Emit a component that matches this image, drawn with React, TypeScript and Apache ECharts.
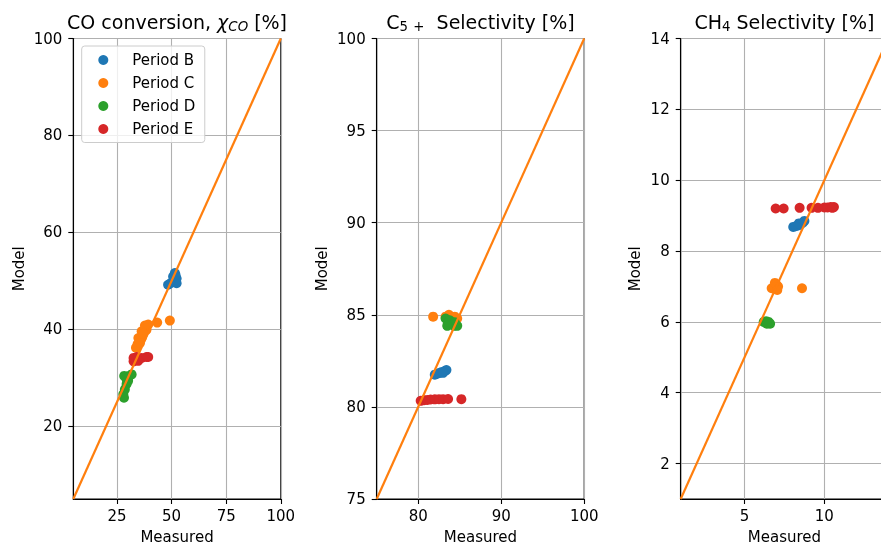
import React, { useEffect, useRef } from 'react';
import * as echarts from 'echarts';

const periods = ['Period B', 'Period C', 'Period D', 'Period E'];
const colors = ['#1f77b4', '#ff7f0e', '#2ca02c', '#d62728'];

// Panel 1: CO conversion [measured, model]
const coB = [[51.5, 51.6], [52.3, 50.5], [50.7, 49.9], [48.4, 49.2], [49.5, 49.5], [52.3, 49.5], [50.7, 50.9], [51.8, 51.2]];
const coC = [[34.4, 36.9], [34.8, 38.2], [36.3, 38.2], [36.3, 39.6], [38.5, 39.9], [37.8, 40.8], [39.3, 41.0], [33.7, 36.2], [35.5, 37.2], [37.0, 39.1], [43.4, 41.4], [49.2, 41.8]];
const coD = [[30.6, 30.4], [29.4, 29.7], [29.4, 28.7], [28.6, 27.6], [27.9, 26.6], [28.2, 25.9], [30.1, 29.4], [31.7, 30.7], [28.3, 30.4]];
const coE = [[32.6, 33.4], [34.0, 34.3], [36.3, 34.1], [38.5, 34.3], [32.6, 34.1], [34.7, 33.5], [39.3, 34.3]];

// Panel 2: C5+ selectivity
const c5B = [[82.0, 81.75], [82.3, 81.8], [82.6, 81.85], [82.9, 81.9], [83.2, 81.95], [83.4, 82.0], [83.0, 81.85]];
const c5C = [[81.8, 84.9], [83.3, 84.9], [83.7, 85.0], [84.0, 84.9], [84.4, 84.9], [84.7, 84.8]];
const c5D = [[83.3, 84.8], [83.6, 84.6], [84.0, 84.5], [84.3, 84.4], [84.7, 84.4], [83.8, 84.7], [84.4, 84.6], [83.5, 84.4]];
const c5E = [[80.3, 80.33], [80.7, 80.36], [81.1, 80.38], [81.5, 80.4], [82.0, 80.41], [82.5, 80.42], [83.0, 80.42], [83.6, 80.43], [85.2, 80.42]];

// Panel 3: CH4 selectivity
const chB = [[8.05, 8.68], [8.2, 8.7], [8.35, 8.72], [8.5, 8.75], [8.65, 8.8], [8.75, 8.85], [8.4, 8.78]];
const chC = [[6.7, 6.95], [6.85, 7.0], [7.0, 7.05], [7.1, 7.0], [6.9, 7.1], [7.05, 6.9], [8.6, 6.95]];
const chD = [[6.2, 6.0], [6.35, 6.02], [6.5, 6.0], [6.6, 5.95], [6.4, 5.95]];
const chE = [[6.95, 9.2], [7.45, 9.2], [8.45, 9.22], [9.2, 9.22], [9.6, 9.22], [10.0, 9.23], [10.2, 9.23], [10.4, 9.24], [10.6, 9.24], [10.5, 9.22]];

// Axis ranges and ticks
const ranges = [[5, 100], [75, 100], [1, 14]];
const xTicks = [[25, 50, 75, 100], [80, 90, 100], [5, 10]];
const yTicks = [[20, 40, 60, 80, 100], [75, 80, 85, 90, 95, 100], [2, 4, 6, 8, 10, 12, 14]];
const diagonals = [[[5, 5], [100, 100]], [[75, 75], [100, 100]], [[1, 1], [14, 14]]];
const panelData = [[coB, coC, coD, coE], [c5B, c5C, c5D, c5E], [chB, chC, chD, chE]];

const FONT = 'DejaVu Sans';
const gridLefts = [73.3, 376.7, 680.7];
const gridW = 207.5;
const gridTop = 38.5;
const gridBottom = 44;
const yNameGaps = [47, 47, 38];

export default function App() {
  const ref = useRef<HTMLDivElement>(null);
  useEffect(() => {
    if (!ref.current) return;
    const chart = echarts.init(ref.current, null, { renderer: 'svg' });
    const axisCommon = {
      type: 'value' as const,
      axisLine: { show: true, lineStyle: { color: '#000', width: 1.1 } },
      splitLine: { show: true, lineStyle: { color: '#b0b0b0', width: 1.1 } },
      nameLocation: 'middle' as const,
      nameTextStyle: { fontFamily: FONT, fontSize: 15, color: '#000' },
    };
    const xAxis = ranges.map((r, i) => ({
      ...axisCommon,
      gridIndex: i,
      min: r[0],
      max: r[1],
      name: 'Measured',
      nameGap: 30,
      axisTick: { show: true, length: 5, lineStyle: { color: '#000', width: 1.1 }, customValues: xTicks[i] },
      axisLabel: { fontFamily: FONT, fontSize: 15, color: '#000', margin: 9, customValues: xTicks[i] },
    }));
    const yAxis = ranges.map((r, i) => ({
      ...axisCommon,
      gridIndex: i,
      min: r[0],
      max: r[1],
      name: 'Model',
      nameGap: yNameGaps[i],
      axisTick: { show: true, length: 5, lineStyle: { color: '#000', width: 1.1 }, customValues: yTicks[i] },
      axisLabel: { fontFamily: FONT, fontSize: 15, color: '#000', margin: 11, customValues: yTicks[i] },
    }));
    const series: any[] = [];
    panelData.forEach((sets, i) => {
      sets.forEach((d, p) => {
        series.push({
          type: 'scatter',
          name: periods[p],
          xAxisIndex: i,
          yAxisIndex: i,
          data: d,
          symbolSize: 10,
          itemStyle: { color: colors[p], opacity: 1 },
          z: 2,
        });
      });
      series.push({
        type: 'line',
        xAxisIndex: i,
        yAxisIndex: i,
        data: diagonals[i],
        symbol: 'none',
        lineStyle: { color: '#ff7f0e', width: 2.2 },
        z: 3,
        silent: true,
      });
    });
    const titleRich = {
      it: { fontFamily: FONT, fontSize: 19, fontStyle: 'italic', fill: '#000', lineHeight: 21 },
      n: { fontFamily: FONT, fontSize: 19, fill: '#000', lineHeight: 21 },
      sub: { fontFamily: FONT, fontSize: 13.3, fill: '#000', lineHeight: 10, verticalAlign: 'bottom' },
      subi: { fontFamily: FONT, fontSize: 13.3, fontStyle: 'italic', fill: '#000', lineHeight: 10, verticalAlign: 'bottom' },
    };
    const titles = [
      '{n|CO conversion, }{it|χ}{subi|CO}{n|\u00a0[%]}',
      '{n|C}{sub|5\u2009\u2009+}{n|\u00a0\u00a0Selectivity [%]}',
      '{n|CH}{sub|4}{n|\u00a0Selectivity [%]}',
    ];
    chart.setOption({
      animation: false,
      grid: gridLefts.map((l) => ({
        left: l, top: gridTop, width: gridW, bottom: gridBottom,
        show: true, borderColor: '#000', borderWidth: 1.1, backgroundColor: 'transparent',
      })),
      xAxis,
      yAxis,
      legend: {
        data: periods.map((name) => ({ name, icon: 'circle' })),
        orient: 'vertical',
        left: 81.7,
        top: 46,
        itemWidth: 10,
        itemHeight: 10,
        itemGap: 8,
        padding: [6.5, 9.4, 6, 16.6],
        textStyle: { fontFamily: FONT, fontSize: 15, color: '#000', padding: [0, 0, 0, 19] },
        borderColor: '#cccccc',
        borderWidth: 1,
        borderRadius: 3,
        backgroundColor: 'rgba(255,255,255,0.8)',
        selectedMode: false,
      },
      graphic: titles.map((t, i) => ({
        type: 'text',
        x: gridLefts[i] + gridW / 2,
        y: 22,
        style: {
          text: t,
          rich: titleRich,
          align: 'center',
          verticalAlign: 'middle',
          fontFamily: FONT,
          fontSize: 19,
          fill: '#000',
        },
      })),
      series,
    });
    return () => chart.dispose();
  }, []);
  return <div ref={ref} style={{ position: 'fixed', left: 0, top: 0, width: 892, height: 549 }} />;
}
